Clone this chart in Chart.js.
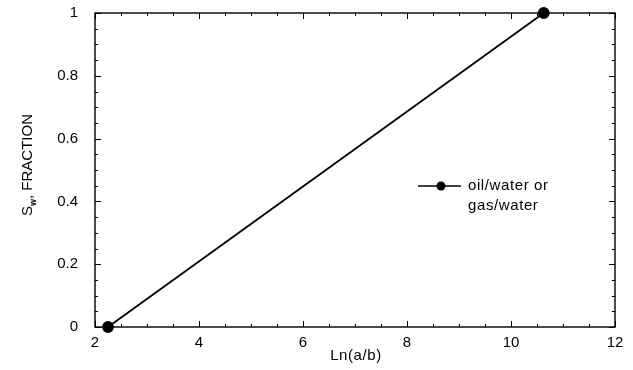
<!DOCTYPE html>
<html>
<head>
<meta charset="utf-8">
<script src="https://cdn.jsdelivr.net/npm/chart.js@4.4.1/dist/chart.umd.min.js"></script>
<style>
  html, body { margin: 0; padding: 0; background: #fff; }
  #wrap { width: 633px; height: 370px; }
</style>
</head>
<body>
<div id="wrap"><canvas id="chart" width="633" height="370"></canvas></div>
<script>
// water saturation vs ln(a/b)
var lnRatio = [2.25, 10.63];
var swFraction = [0, 1];
var xTicks = [2, 4, 6, 8, 10, 12];
var yTicks = [0, 0.2, 0.4, 0.6, 0.8, 1];
var seriesName = ["oil/water or", "gas/water"];

var FONT = "Liberation Sans, Arial, sans-serif";
var INK = "#000";

// frame, inward ticks on all four sides, titles and legend
var framePlugin = {
  id: "frame",
  afterDraw: function (chart) {
    var ctx = chart.ctx;
    var a = chart.chartArea;
    var xs = chart.scales.x, ys = chart.scales.y;
    ctx.save();
    ctx.strokeStyle = INK;
    ctx.lineWidth = 1.4;
    ctx.strokeRect(a.left, a.top, a.right - a.left, a.bottom - a.top);

    ctx.lineWidth = 1;
    ctx.beginPath();
    for (var v = xs.min; v <= xs.max + 1e-9; v += 0.5) {
      var px = Math.round(xs.getPixelForValue(v)) + 0.5;
      var major = Math.abs(v - Math.round(v / 2) * 2) < 1e-6;
      var len = major ? 6 : 3;
      ctx.moveTo(px, a.bottom); ctx.lineTo(px, a.bottom - len);
      ctx.moveTo(px, a.top); ctx.lineTo(px, a.top + len);
    }
    for (var i = 0; i <= 20; i++) {
      var val = i * 0.05;
      var py = Math.round(ys.getPixelForValue(val)) + 0.5;
      var lenY = (i % 4 === 0) ? 6 : 3;
      ctx.moveTo(a.left, py); ctx.lineTo(a.left + lenY, py);
      ctx.moveTo(a.right, py); ctx.lineTo(a.right - lenY, py);
    }
    ctx.stroke();

    // x title
    ctx.fillStyle = INK;
    ctx.font = "15px " + FONT;
    ctx.letterSpacing = "0.6px";
    ctx.textAlign = "center";
    ctx.textBaseline = "middle";
    ctx.fillText("Ln(a/b)", 356, 356);

    // y title with subscript
    ctx.save();
    ctx.letterSpacing = "0px";
    ctx.translate(28, 165);
    ctx.rotate(-Math.PI / 2);
    ctx.textAlign = "left";
    ctx.textBaseline = "middle";
    ctx.font = "15px " + FONT;
    var s1 = "S", s2 = "w", s3 = ", FRACTION";
    var w1 = ctx.measureText(s1).width;
    ctx.font = "bold 9px " + FONT;
    var w2 = ctx.measureText(s2).width;
    ctx.font = "15px " + FONT;
    var w3 = ctx.measureText(s3).width;
    var x0 = -(w1 + w2 + w3) / 2;
    ctx.fillText(s1, x0, 0);
    ctx.font = "bold 9px " + FONT;
    ctx.fillText(s2, x0 + w1, 6);
    ctx.font = "15px " + FONT;
    ctx.fillText(s3, x0 + w1 + w2, 0);
    ctx.restore();

    // legend
    var ly = 186;
    ctx.lineWidth = 1.6;
    ctx.beginPath();
    ctx.moveTo(418, ly); ctx.lineTo(461, ly);
    ctx.stroke();
    ctx.beginPath();
    ctx.arc(441, ly, 4.5, 0, Math.PI * 2);
    ctx.fill();
    ctx.textAlign = "left";
    ctx.font = "15px " + FONT;
    ctx.letterSpacing = "0.6px";
    ctx.fillText(seriesName[0], 468, ly);
    ctx.fillText(seriesName[1], 468, ly + 20);
    ctx.restore();
  }
};

new Chart(document.getElementById("chart"), {
  type: "scatter",
  data: {
    datasets: [{
      label: seriesName.join(" "),
      data: lnRatio.map(function (x, i) { return { x: x, y: swFraction[i] }; }),
      showLine: true,
      borderColor: INK,
      backgroundColor: INK,
      borderWidth: 1.8,
      pointRadius: 5,
      pointHoverRadius: 5,
      clip: false
    }]
  },
  options: {
    responsive: false,
    animation: false,
    events: [],
    layout: { padding: { top: 13, right: 18, left: 0, bottom: 0 } },
    plugins: { legend: { display: false }, tooltip: { enabled: false } },
    scales: {
      x: {
        type: "linear",
        min: xTicks[0],
        max: xTicks[xTicks.length - 1],
        afterBuildTicks: function (s) { s.ticks = xTicks.map(function (v) { return { value: v }; }); },
        afterFit: function (s) { s.height = 43; s.paddingLeft = 0; s.paddingRight = 0; },
        grid: { display: false, drawTicks: false },
        border: { display: false },
        ticks: { color: INK, font: { family: FONT, size: 15 }, padding: 7, maxRotation: 0,
          callback: function (v) { return String(v); } }
      },
      y: {
        min: yTicks[0],
        max: yTicks[yTicks.length - 1],
        afterBuildTicks: function (s) { s.ticks = yTicks.map(function (v) { return { value: v }; }); },
        afterFit: function (s) { s.width = 95; s.paddingTop = 0; s.paddingBottom = 0; },
        grid: { display: false, drawTicks: false },
        border: { display: false },
        ticks: { color: INK, font: { family: FONT, size: 15 }, padding: 17,
          callback: function (v) { return String(v); } }
      }
    }
  },
  plugins: [framePlugin]
});
</script>
</body>
</html>
